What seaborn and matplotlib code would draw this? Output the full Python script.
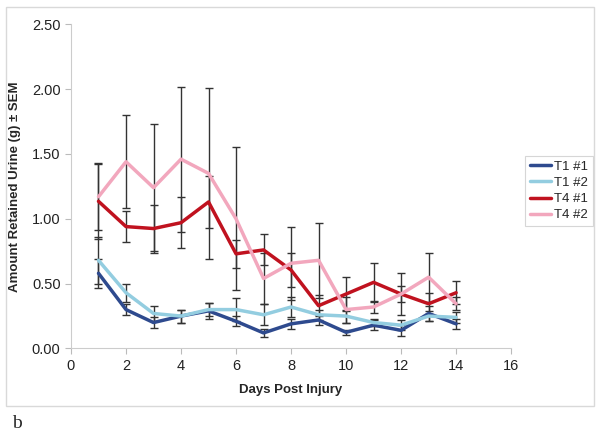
import numpy as np
import pandas as pd
import matplotlib
matplotlib.use("Agg")
import matplotlib.pyplot as plt
import seaborn as sns
from matplotlib.patches import Rectangle

# Data
days = list(range(1, 15))
series = ["T1 #1", "T1 #2", "T4 #1", "T4 #2"]

t1_1 = [0.58, 0.30, 0.20, 0.25, 0.29, 0.21, 0.12, 0.19, 0.22, 0.125, 0.18, 0.14, 0.27, 0.19]
t1_2 = [0.68, 0.43, 0.27, 0.25, 0.30, 0.30, 0.26, 0.32, 0.26, 0.25, 0.20, 0.18, 0.25, 0.24]
t4_1 = [1.135, 0.94, 0.925, 0.97, 1.13, 0.73, 0.76, 0.605, 0.33, 0.42, 0.51, 0.42, 0.345, 0.43]
t4_2 = [1.17, 1.44, 1.24, 1.46, 1.35, 1.00, 0.54, 0.657, 0.68, 0.30, 0.32, 0.42, 0.55, 0.345]

t1_1_sem = [0.11, 0.045, 0.04, 0.05, 0.06, 0.04, 0.03, 0.04, 0.04, 0.02, 0.04, 0.04, 0.06, 0.04]
t1_2_sem = [0.18, 0.07, 0.06, 0.05, 0.05, 0.09, 0.08, 0.08, 0.04, 0.05, 0.03, 0.04, 0.04, 0.04]
t4_1_sem = [0.29, 0.12, 0.185, 0.195, 0.20, 0.11, 0.12, 0.13, 0.08, 0.13, 0.15, 0.16, 0.08, 0.09]
t4_2_sem = [0.26, 0.36, 0.49, 0.56, 0.66, 0.55, 0.20, 0.28, 0.29, 0.10, 0.05, 0.06, 0.19, 0.05]

colors = ["#2E4A8E", "#93CDE0", "#C0121F", "#F2A7BD"]

values = [t1_1, t1_2, t4_1, t4_2]
sems = [t1_1_sem, t1_2_sem, t4_1_sem, t4_2_sem]

df = pd.DataFrame({
    "day": days * len(series),
    "value": sum(values, []),
    "sem": sum(sems, []),
    "series": np.repeat(series, len(days)),
})

sns.set_style("white")
plt.rcParams["font.family"] = ["Liberation Sans", "DejaVu Sans"]

fig = plt.figure(figsize=(6, 4.36), dpi=100)
ax = fig.add_axes([0.1183, 0.2007, 0.7336, 0.7436])

# chart border
fig.patches.append(Rectangle((6 / 600, 1 - 406 / 436), 588 / 600, 399 / 436,
                             transform=fig.transFigure, fill=False,
                             edgecolor="#d9d9d9", linewidth=1))

# error bars first, lines on top
for s in series:
    d = df[df["series"] == s]
    ax.errorbar(d["day"], d["value"], yerr=d["sem"], fmt="none",
                ecolor="#333333", elinewidth=1, capsize=3, capthick=1, zorder=2)

sns.lineplot(data=df, x="day", y="value", hue="series", palette=colors,
             linewidth=2.5, ax=ax, zorder=3)

ax.set_xlim(0, 16)
ax.set_ylim(0, 2.5)
ax.set_xticks(range(0, 17, 2))
ax.set_yticks(np.arange(0, 2.51, 0.5))
ax.set_yticklabels([f"{v:.2f}" for v in np.arange(0, 2.51, 0.5)])
ax.tick_params(axis="both", labelsize=10.5, colors="#bbbbbb", labelcolor="#222222",
               length=4, direction="out", bottom=True, left=True)

for side in ["top", "right"]:
    ax.spines[side].set_visible(False)
for side in ["left", "bottom"]:
    ax.spines[side].set_color("#cccccc")
    ax.spines[side].set_linewidth(0.8)

ax.set_xlabel("Days Post Injury", fontsize=9.5, fontweight="bold", labelpad=8)
ax.set_ylabel("Amount Retained Urine (g) ± SEM", fontsize=9.5, fontweight="bold", labelpad=8)

leg = ax.legend(title=None, loc="upper left",
                bbox_to_anchor=(525 / 600, 1 - 156 / 436),
                bbox_transform=fig.transFigure,
                fontsize=9.5, frameon=True, fancybox=False, handlelength=1.6,
                handletextpad=0.25, borderpad=0.35, labelspacing=0.3,
                borderaxespad=0)
leg.get_frame().set_edgecolor("#cccccc")
leg.get_frame().set_linewidth(0.8)
for line in leg.get_lines():
    line.set_linewidth(2.5)

fig.text(12 / 600, 1 - 428 / 436, "b", fontsize=14, family="Liberation Serif")

fig.savefig("out.png", dpi=100)
